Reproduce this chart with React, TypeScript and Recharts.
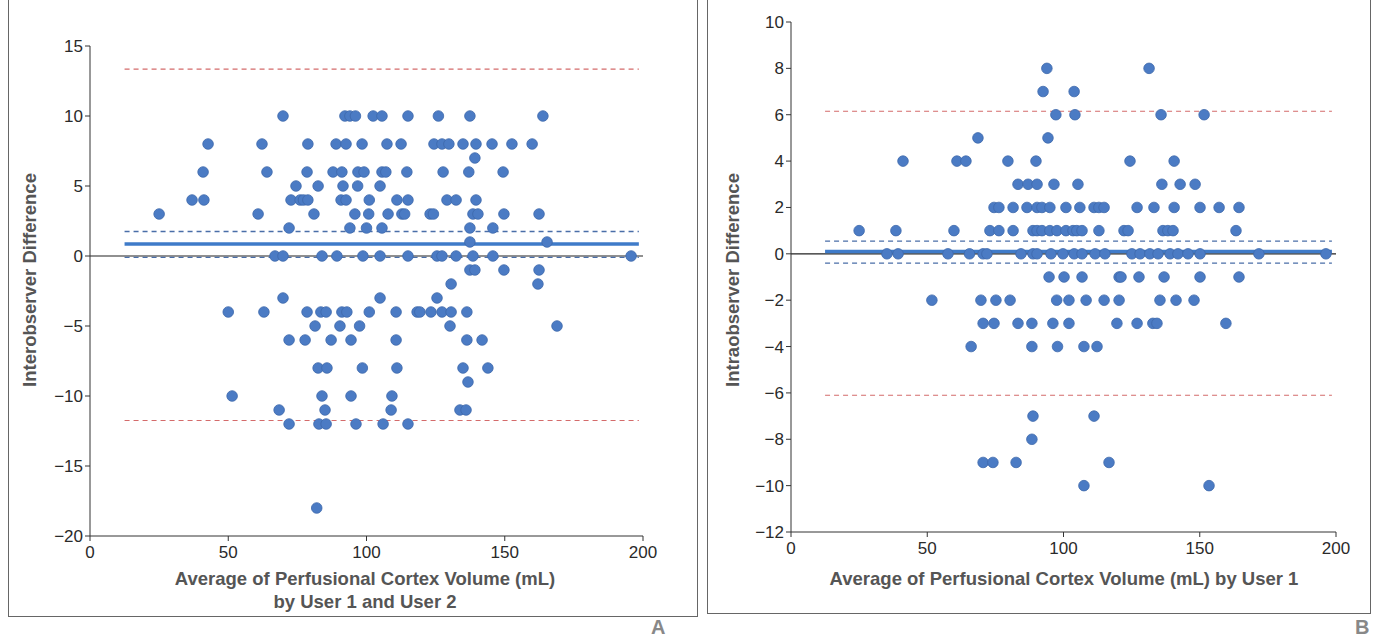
import React from 'react';
import { ScatterChart, Scatter, XAxis, YAxis, ReferenceLine } from 'recharts';

// --- Panel A: interobserver (difference level -> averages at that level) ---
const A_LEVELS = [10, 8, 7, 6, 5, 4, 3, 2, 1, 0, -1, -2, -3, -4, -5, -6, -8, -9, -10, -11, -12, -18];
const A_AVERAGES = [
    [69.8, 92.2, 94, 96, 102.4, 105.6, 115, 126, 137.4, 163.8],
    [42.7, 62.2, 78.8, 89, 92.6, 98.4, 107.4, 112.5, 124.4, 127.3, 129.8, 134.9, 139.6, 145.4, 152.6, 159.9],
    [139.2],
    [40.9, 64, 78.5, 87.9, 91.1, 96.9, 99.1, 105.6, 107, 114.6, 127.7, 137, 149.4],
    [74.5, 82.5, 91.5, 96.8, 104.9],
    [36.9, 41.2, 72.7, 76, 77.2, 78.8, 90.8, 92.6, 101, 111, 115, 129.1, 132.4, 139.6],
    [25, 60.8, 81, 95.8, 100.8, 107.8, 112.8, 113.8, 123, 124.2, 138.5, 140.3, 149.7, 162.4],
    [72, 94, 100, 105.6, 137.4, 145.7],
    [137.4, 165.3],
    [66.9, 69.8, 83.9, 89.3, 98.7, 104.9, 115, 125.5, 127.3, 132.4, 138.5, 145.7, 195.7],
    [137.4, 139.2, 149.7, 162.4],
    [130.6, 162],
    [69.8, 104.9, 125.5],
    [50, 62.9, 78.5, 83.5, 85.4, 91.1, 92.9, 101, 110.7, 118.3, 119.3, 123.3, 127.3, 130.6, 136.3],
    [81.4, 90.4, 97.5, 130.2, 168.9],
    [72, 77.8, 87.2, 94.4, 110.7, 136.3, 141.8],
    [82.5, 85.7, 98.5, 111, 134.9, 143.9],
    [136.7],
    [51.4, 83.9, 94.4, 109.2],
    [68.4, 85, 108.9, 133.8, 136],
    [72, 82.8, 85.4, 96.2, 106, 115],
    [82],
];
const A_Y_TICKS = [-20, -15, -10, -5, 0, 5, 10, 15];
const A_MEAN = 0.85;
const A_MEAN_CI = [1.75, -0.1];
const A_LIMITS = [13.35, -11.75];

// --- Panel B: intraobserver ---
const B_LEVELS = [8, 7, 6, 5, 4, 3, 2, 1, 0, -1, -2, -3, -4, -7, -8, -9, -10];
const B_AVERAGES = [
    [93.9, 131.4],
    [92.5, 103.9],
    [97.2, 104.2, 135.8, 151.6],
    [68.6, 94.3],
    [41.1, 60.9, 64.2, 79.6, 89.9, 124.4, 140.6],
    [83.3, 87, 90.3, 96.5, 105.3, 136.1, 142.8, 148.3],
    [74.5, 76.3, 81.5, 86.6, 90.3, 92.1, 95, 100.9, 106, 111.2, 113, 114.9, 127, 133.2, 140.6, 150.1, 157.1, 164.4],
    [25, 38.5, 59.8, 73, 76.3, 81.5, 88.8, 90.3, 92.1, 95, 97.6, 100.9, 103.5, 104.9, 106.8, 113, 122.2, 123.7, 136.5, 138.3, 140.2, 163.3],
    [35.2, 39.3, 57.6, 65.5, 70.5, 71.9, 84.4, 88.8, 90.3, 95.4, 99.8, 103.9, 106.8, 111.6, 115.2, 125.1, 128.1, 131.7, 134.7, 139.1, 142, 145.7, 150.1, 171.7, 196.3],
    [94.7, 100.2, 106.8, 120.4, 121.1, 127.7, 136.9, 150.1, 164.4],
    [51.7, 69.7, 75.2, 80.4, 97.5, 102, 108.3, 114.9, 120.4, 135.4, 141.3, 147.9],
    [70.5, 74.5, 83.3, 88.4, 96.1, 102, 119.6, 127, 132.8, 134.3, 159.6],
    [66.1, 88.4, 97.8, 107.5, 112.3],
    [88.8, 111.2],
    [88.4],
    [70.5, 74.1, 82.6, 116.7],
    [107.5, 153.4],
];
const B_Y_TICKS = [-12, -10, -8, -6, -4, -2, 0, 2, 4, 6, 8, 10];
const B_MEAN = 0.1;
const B_MEAN_CI = [0.55, -0.4];
const B_LIMITS = [6.15, -6.1];

const X_TICKS = [0, 50, 100, 150, 200];
const LINE_START = 12.5;
const LINE_END = 198.5;

const FONT = '"Liberation Sans Narrow", "Liberation Sans", Arial, sans-serif';
const DOT = '#4b7bc4';
const TICK_SIZE = 17;

const toPoints = (levels: number[], avgs: number[][]) =>
    levels.flatMap((d, i) => avgs[i].map(a => ({ avg: a, diff: d })));

const fmt = (v: number) => (v < 0 ? '\u2212' + Math.abs(v) : String(v));

const Dot = (props: any) => (
    <circle cx={props.cx} cy={props.cy} r={5.3} fill={DOT} stroke="#3d68ab" strokeWidth={0.8} />
);

const seg = (y: number) => [{ x: LINE_START, y }, { x: LINE_END, y }];

interface PanelProps {
    levels: number[];
    averages: number[][];
    yDomain: [number, number];
    yTicks: number[];
    mean: number;
    ci: number[];
    limits: number[];
    width: number;
    margin: { top: number; right: number; bottom: number; left: number };
}

const Panel: React.FC<PanelProps> = ({ levels, averages, yDomain, yTicks, mean, ci, limits, width, margin }) => {
    const data = toPoints(levels, averages);
    const tick = { fill: '#2a2a2a', fontSize: TICK_SIZE, fontFamily: FONT };
    return (
        <ScatterChart width={width} height={600} margin={margin}>
            <XAxis type="number" dataKey="avg" domain={[0, 200]} ticks={X_TICKS} tick={tick} tickSize={5}
                tickMargin={5} fontSize={TICK_SIZE} height={30} stroke="#333" allowDataOverflow />
            <YAxis type="number" dataKey="diff" domain={yDomain} ticks={yTicks} tick={tick} tickSize={5}
                fontSize={TICK_SIZE} width={50} stroke="#333" tickFormatter={fmt} interval={0} />
            <ReferenceLine y={0} stroke="#222" strokeWidth={1.2} />
            {limits.map((v, i) => (
                <ReferenceLine key={`lim-${i}`} segment={seg(v)} stroke="#d46b6b" strokeWidth={1.2} strokeDasharray="5 4" />
            ))}
            {ci.map((v, i) => (
                <ReferenceLine key={`ci-${i}`} segment={seg(v)} stroke="#4a6ea8" strokeWidth={1.3} strokeDasharray="5 4" />
            ))}
            <ReferenceLine segment={seg(mean)} stroke="#3f7bc9" strokeWidth={3.5} />
            <Scatter data={data} shape={Dot} isAnimationActive={false} />
        </ScatterChart>
    );
};

const labelStyle: React.CSSProperties = {
    position: 'absolute', fontFamily: FONT, fontWeight: 'bold', fontSize: 18.5, color: '#555',
    whiteSpace: 'nowrap', textAlign: 'center',
};

export default function App() {
    return (
        <div style={{ position: 'absolute', left: 0, top: 0, width: 1379, height: 639, background: '#fff', overflow: 'hidden' }}>
            <div style={{ position: 'absolute', left: 8, top: -5, width: 688, height: 620, border: '1.5px solid #666' }} />
            <div style={{ position: 'absolute', left: 707, top: -5, width: 662, height: 617, border: '1.5px solid #666' }} />

            <div style={{ position: 'absolute', left: 0, top: 0 }}>
                <Panel levels={A_LEVELS} averages={A_AVERAGES} yDomain={[-20, 15]} yTicks={A_Y_TICKS}
                    mean={A_MEAN} ci={A_MEAN_CI} limits={A_LIMITS} width={700}
                    margin={{ top: 46, right: 57, bottom: 34, left: 40 }} />
            </div>
            <div style={{ position: 'absolute', left: 700, top: 0 }}>
                <Panel levels={B_LEVELS} averages={B_AVERAGES} yDomain={[-12, 10]} yTicks={B_Y_TICKS}
                    mean={B_MEAN} ci={B_MEAN_CI} limits={B_LIMITS} width={679}
                    margin={{ top: 22, right: 43, bottom: 38, left: 41 }} />
            </div>

            <div style={{ ...labelStyle, left: 30, top: 280, transform: 'translate(-50%, -50%) rotate(-90deg)' }}>
                Interobserver Difference
            </div>
            <div style={{ ...labelStyle, left: 365, top: 567, transform: 'translateX(-50%)', lineHeight: '23px' }}>
                Average of Perfusional Cortex Volume (mL)<br />by User 1 and User 2
            </div>
            <div style={{ ...labelStyle, left: 733, top: 280, transform: 'translate(-50%, -50%) rotate(-90deg)' }}>
                Intraobserver Difference
            </div>
            <div style={{ ...labelStyle, left: 1064, top: 567, transform: 'translateX(-50%)', lineHeight: '23px' }}>
                Average of Perfusional Cortex Volume (mL) by User 1
            </div>

            <div style={{ ...labelStyle, left: 651, top: 617, fontSize: 20, lineHeight: '20px', color: '#888' }}>A</div>
            <div style={{ ...labelStyle, left: 1355, top: 617, fontSize: 20, lineHeight: '20px', color: '#888' }}>B</div>
        </div>
    );
}
